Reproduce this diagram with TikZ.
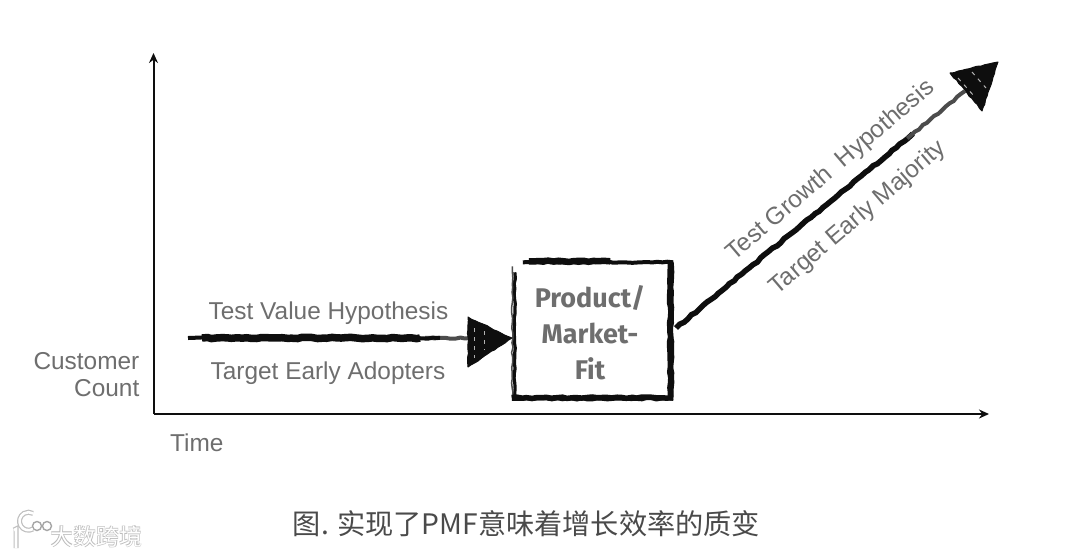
\documentclass[tikz,border=0pt]{standalone}
\usepackage{fontspec}
\setmainfont{Liberation Sans}
\newfontfamily\cjkf{Noto Sans CJK SC}
\newfontfamily\handf{Fira Sans}
\usetikzlibrary{calc,decorations.pathmorphing,arrows.meta}
\definecolor{lab}{HTML}{6E6E6E}
\definecolor{cap}{HTML}{4A4A4A}
\definecolor{ink}{HTML}{0E0E0E}
\tikzset{
  x=1pt,y=-1pt,
  axisline/.style={draw=ink,line width=2pt,-{Stealth[length=10pt,width=9pt]}},
  lbl/.style={text=lab,font=\fontsize{24.4}{26}\selectfont,inner sep=0pt},
  rlbl/.style={text=lab,font=\fontsize{24.4}{26}\selectfont,inner sep=0pt,rotate=40.5},
  rough/.style={draw=ink,decorate,decoration={random steps,segment length=5pt,amplitude=0.7pt}},
  headfill/.style={fill=ink,draw=ink,line width=1pt,line join=round,decorate,decoration={random steps,segment length=4pt,amplitude=0.6pt}},
  streak/.style={draw=white!70!black,line width=1pt,dash pattern=on 4pt off 5pt},
  hand/.style={text=lab,font=\handf\fontseries{sb}\selectfont\fontsize{27}{36}\selectfont,align=center,inner sep=0pt},
  wm/.style={text=white,font=\cjkf\fontsize{23}{24}\selectfont,inner sep=0pt},
  wmhalo/.style={text=black!28,font=\cjkf\bfseries\fontsize{23}{24}\selectfont,inner sep=0pt}
}
\begin{document}
\begin{tikzpicture}
\pgfmathsetseed{7}
\useasboundingbox (0,0) rectangle (1080,558);
\fill[white] (0,0) rectangle (1080,558);

% axes
\coordinate (origin) at (153.5,414);
\coordinate (ytop) at (153.5,53);
\coordinate (xend) at (989,414);
\draw[axisline] (origin) -- (ytop);
\draw[axisline] (origin) -- (xend);

% product/market fit box
\node[minimum width=155pt,minimum height=135pt,inner sep=0pt] (pmf) at (592.5,330) {};
\node[hand] (pmftext) at (590,333) {Product/\\Market-\\Fit};
\draw[rough,line width=3.2pt] ([yshift=-1pt]pmf.south west) -- ([yshift=-10pt]pmf.north west);
\draw[rough,line width=1.5pt,draw=black!70] ([xshift=-2.5pt]pmf.south west) -- ([xshift=-2.5pt,yshift=-4pt]pmf.north west);
\draw[rough,line width=5.5pt] (pmf.north east) -- (pmf.south east);
\draw[rough,line width=3pt] ([xshift=2pt]pmf.north east) -- ([xshift=2pt]pmf.south east);
\draw[rough,line width=5.5pt] ([xshift=-3pt]pmf.south west) -- ([xshift=3pt]pmf.south east);
\draw[rough,line width=2.2pt] ([yshift=-2pt,xshift=-3pt]pmf.south west) -- ([yshift=-2pt,xshift=3pt]pmf.south east);
\draw[rough,line width=4pt] ([xshift=8pt]pmf.north west) -- ([xshift=3pt]pmf.north east);
\draw[rough,line width=6.5pt] ([xshift=14pt,yshift=1pt]pmf.north west) -- ([xshift=-60pt,yshift=1pt]pmf.north east);

% value arrow
\coordinate (vstart) at (188,338);
\coordinate (vjoin) at (470,338);
\coordinate (vtop) at (468,317);
\coordinate (vbot) at (468,367);
\draw[rough,line width=4pt,draw=black!70] ([xshift=-45pt]vjoin) -- (vjoin);
\draw[rough,line width=4pt] (vstart) -- ([xshift=-30pt]vjoin);
\draw[rough,line width=7.5pt] ([xshift=14pt]vstart) -- ([xshift=-50pt]vjoin);
\filldraw[headfill] (512,338) coordinate (vtip) -- (vtop) -- (vbot) -- cycle;
\draw[streak] (474,328) -- (474,358);
\draw[streak] (484,331) -- (484,350);

% growth arrow
\coordinate (gstart) at (676,328);
\coordinate (gjoin) at (965,91);
\coordinate (gleft) at (950,73);
\coordinate (gright) at (998,62);
\coordinate (gbot) at (982,111);
\draw[rough,line width=5.5pt] (gstart) -- ($(gstart)!0.82!(gjoin)$);
\draw[rough,line width=4pt,draw=black!70] ($(gstart)!0.8!(gjoin)$) -- (gjoin);
\filldraw[headfill] (gleft) -- (gright) -- (gbot) -- cycle;
\draw[streak] (958,78) -- (974,96);
\draw[streak] (972,72) -- (986,88);

% labels
\node[lbl] (tv) at (328.5,313) {Test Value Hypothesis};
\node[lbl] (te) at (328,373) {Target Early Adopters};
\node[lbl,anchor=east] (cc) at (139.5,361) {Customer};
\node[lbl,anchor=east] (cn) at (139.5,388) {Count};
\node[lbl,anchor=west] (tm) at (170,443) {Time};
\node[rlbl] (tg) at (831,171) {Test Growth\ \ Hypothesis};
\node[rlbl] (tm2) at (858,218) {Target Early Majority};

% caption
\node[inner sep=0pt,text=cap,font=\cjkf\fontsize{28.2}{30}\selectfont] (caption) at (526.5,524) {图. 实现了PMF意味着增长效率的质变};

% watermark
\node[wmhalo] (wm0) at (96,537) {大数跨境};
\node[wm] (wm1) at (96,537) {大数跨境};
\draw[black!25,line width=5pt] (14,530) -- (16,529) -- (16,548);
\draw[black!25,line width=5pt] (33,529) arc (60:300:9);
\draw[black!35,line width=1.4pt] (37,526) circle (4.5) (47,526) circle (4.5);
\draw[white,line width=2.6pt] (14,530) -- (16,529) -- (16,548);
\draw[white,line width=2.6pt] (33,529) arc (60:300:9);
\end{tikzpicture}
\end{document}
